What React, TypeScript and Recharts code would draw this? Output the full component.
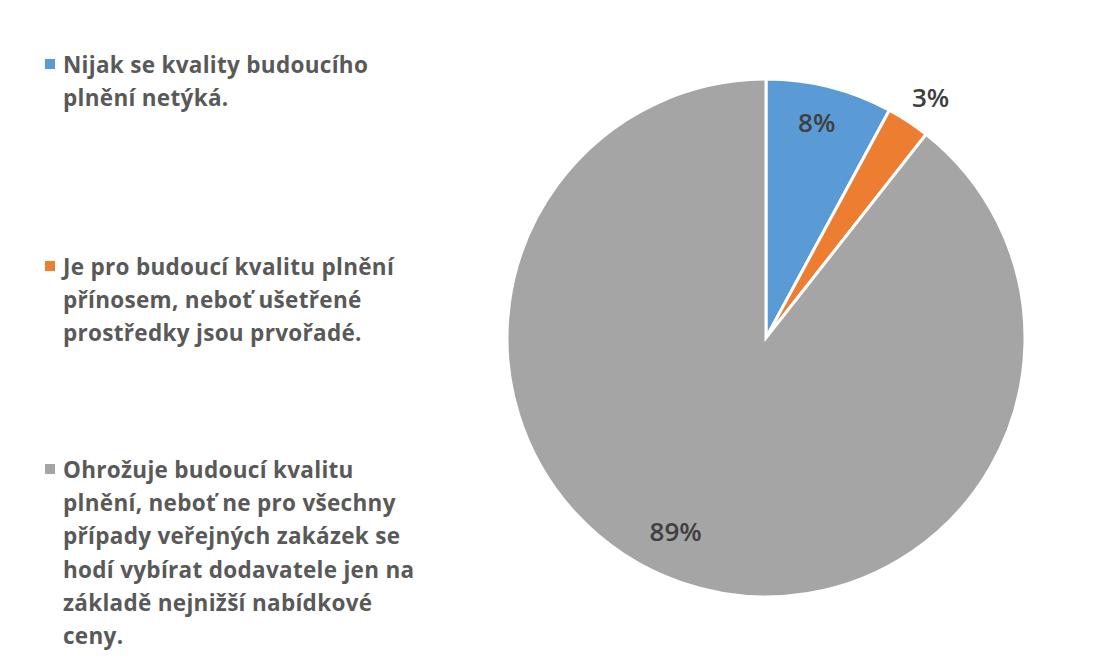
import React from 'react';
import { PieChart, Pie, Cell, Legend } from 'recharts';

const categories = [
    ['Nijak se kvality budoucího', 'plnění netýká.'],
    ['Je pro budoucí kvalitu plnění', 'přínosem, neboť ušetřené', 'prostředky jsou prvořadé.'],
    [
        'Ohrožuje budoucí kvalitu',
        'plnění, neboť ne pro všechny',
        'případy veřejných zakázek se',
        'hodí vybírat dodavatele jen na',
        'základě nejnižší nabídkové',
        'ceny.',
    ],
];
const shares = [7.9, 2.7, 89.4];
const colors = ['#5B9BD5', '#ED7D31', '#A5A5A5'];
// label distance from centre and a small angular nudge (degrees)
const labelRadius = [222, 292, 213];
const labelNudge = [1, -1, -6];

const data = categories.map((lines, i) => ({ name: lines.join(' '), value: shares[i] }));

const RAD = Math.PI / 180;

const renderLabel = (props: any) => {
    const { cx, cy, midAngle, index, value } = props;
    const r = labelRadius[index];
    const a = midAngle + labelNudge[index];
    const x = cx + r * Math.cos(-a * RAD);
    const y = cy + r * Math.sin(-a * RAD);
    return (
        <text
            x={x}
            y={y}
            fill="#404040"
            fontSize={26}
            fontWeight={600}
            fontFamily="Open Sans"
            textAnchor="middle"
            dominantBaseline="central"
        >
            {Math.round(value)}%
        </text>
    );
};

const itemTops = [48, 250, 453];

const LegendContent = () => (
    <div style={{ position: 'relative', width: 440, height: 664 }}>
        {categories.map((lines, i) => (
            <div
                key={i}
                style={{
                    position: 'absolute',
                    left: 0,
                    top: itemTops[i],
                    fontFamily: 'Open Sans',
                    fontWeight: 700,
                    fontSize: 22.5,
                    letterSpacing: 0.3,
                    lineHeight: '33.2px',
                    color: '#595959',
                    whiteSpace: 'nowrap',
                }}
            >
                <span
                    style={{
                        position: 'absolute',
                        left: -2,
                        top: 11,
                        width: 10,
                        height: 10,
                        background: colors[i],
                    }}
                />
                {lines.map((line, j) => (
                    <div key={j} style={{ paddingLeft: 16 }}>
                        {line}
                    </div>
                ))}
            </div>
        ))}
    </div>
);

export default function App() {
    return (
        <div style={{ position: 'absolute', left: 0, top: 0, width: 1110, height: 664, background: '#fff' }}>
            <PieChart width={1110} height={664} margin={{ top: 0, right: 0, bottom: 0, left: 0 }}>
                <Pie
                    data={data}
                    dataKey="value"
                    cx={766}
                    cy={338}
                    outerRadius={259}
                    startAngle={90}
                    endAngle={-270}
                    stroke="#fff"
                    strokeWidth={3}
                    label={renderLabel}
                    labelLine={false}
                    isAnimationActive={false}
                >
                    {data.map((d, i) => (
                        <Cell key={d.name} fill={colors[i]} />
                    ))}
                </Pie>
                <Legend
                    content={<LegendContent />}
                    wrapperStyle={{ position: 'absolute', left: 47, top: 0, width: 440, height: 664 }}
                />
            </PieChart>
        </div>
    );
}
